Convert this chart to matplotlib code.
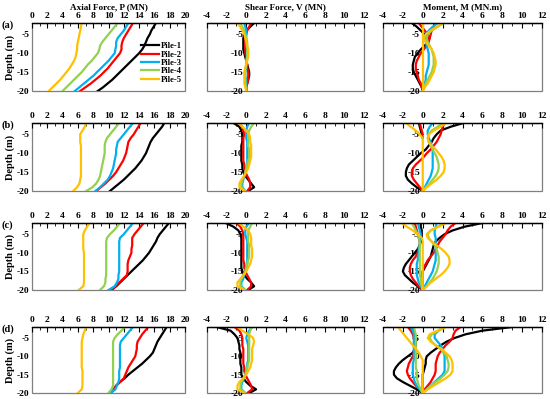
import numpy as np
import matplotlib
matplotlib.use('Agg')
import matplotlib.pyplot as plt
from matplotlib.patches import Rectangle
from matplotlib.ticker import MultipleLocator

depth = [-2, -3, -4, -5, -6, -7, -8, -9, -10, -11, -12, -13, -14, -15, -16, -17, -18, -19, -20]
piles = ['Pile-1', 'Pile-2', 'Pile-3', 'Pile-4', 'Pile-5']
colors = ['#000000', '#FF0000', '#00B0F0', '#92D050', '#FFC000']
row_labels = ['(a)', '(b)', '(c)', '(d)']
titles = ['Axial Force, P (MN)', 'Shear Force, V (MN)', 'Moment, M (MN.m)']
axial_ticks = [0, 2, 4, 6, 8, 10, 12, 14, 16, 18, 20]
vm_ticks = [-4, -2, 0, 2, 4, 6, 8, 10, 12]
depth_ticks = [-5, -10, -15, -20]
N = None

# ---------------- Axial force P (MN) ----------------
axial_a = [
    [16.2, 15.9, 15.6, 15.4, 15.1, 14.9, 14.7, 14.4, 14.0, 13.5, 13.0, 12.5, 12.0, 11.5, 11.0, 10.5, 9.9, 9.3, 8.6],
    [13.2, 12.9, 12.6, 12.3, 12.0, 11.8, 11.7, 11.7, 11.5, 11.1, 10.7, 10.3, 9.9, 9.4, 8.9, 8.3, 7.7, 7.0, 6.3],
    [12.6, 12.3, 12.0, 11.6, 11.2, 11.0, 11.0, 10.9, 10.8, 10.4, 10.0, 9.5, 9.0, 8.5, 8.0, 7.4, 6.8, 6.2, 5.6],
    [11.2, 10.8, 10.4, 10.0, 9.6, 9.2, 8.9, 8.8, 8.6, 8.2, 7.8, 7.3, 6.9, 6.5, 6.0, 5.5, 5.0, 4.5, 4.0],
    [6.5, 6.4, 6.3, 6.2, 6.1, 6.0, 5.9, 5.9, 5.8, 5.7, 5.5, 5.2, 4.9, 4.5, 4.1, 3.7, 3.2, 2.7, 2.2],
]
axial_b = [
    [17.3, 17.0, 16.6, 16.2, 15.8, 15.5, 15.3, 15.1, 14.9, 14.6, 14.3, 13.9, 13.5, 13.0, 12.5, 12.0, 11.4, 10.8, 10.2],
    [14.2, 13.9, 13.6, 13.3, 12.9, 12.6, 12.5, 12.4, 12.3, 12.1, 11.9, 11.6, 11.3, 11.0, 10.6, 10.1, 9.6, 9.0, 8.4],
    [13.2, 12.8, 12.4, 12.0, 11.6, 11.2, 11.1, 11.0, 11.0, 10.9, 10.8, 10.7, 10.6, 10.4, 10.2, 9.9, 9.4, 8.9, 8.3],
    [11.4, 11.0, 10.6, 10.2, 9.8, 9.6, 9.5, 9.5, 9.5, 9.4, 9.3, 9.2, 9.1, 9.0, 8.9, 8.7, 8.4, 7.9, 7.1],
    [7.1, 6.9, 6.6, 6.3, 6.3, 6.3, 6.4, 6.4, 6.4, 6.4, 6.4, 6.4, 6.4, 6.4, 6.4, 6.3, 6.2, 5.9, 5.4],
]
axial_c = [
    [17.9, 17.5, 17.1, 16.7, 16.4, 16.2, 15.9, 15.6, 15.3, 14.9, 14.5, 14.0, 13.5, 13.0, 12.5, 12.0, 11.5, 11.0, 10.4],
    [14.6, 14.2, 13.8, 13.4, 13.1, 13.1, 13.1, 13.0, 13.0, 12.8, 12.6, 12.5, 12.5, 12.5, 12.4, 11.9, 11.4, 10.9, 10.4],
    [13.2, 12.8, 12.4, 12.0, 11.5, 11.4, 11.4, 11.4, 11.4, 11.4, 11.4, 11.4, 11.4, 11.4, 11.3, 11.3, 11.1, 10.8, 10.0],
    [11.5, 11.1, 10.7, 10.2, 9.8, 9.7, 9.7, 9.7, 9.7, 9.7, 9.7, 9.7, 9.7, 9.7, 9.7, 9.6, 9.6, 9.4, 8.9],
    [7.5, 7.2, 6.9, 6.7, 6.7, 6.7, 6.7, 6.7, 6.8, 6.8, 6.8, 6.8, 6.8, 6.8, 6.8, 6.8, 6.8, 6.7, 6.1],
]
axial_d = [
    [17.6, 17.3, 17.0, 16.7, 16.4, 16.2, 16.0, 15.8, 15.4, 14.9, 14.4, 13.8, 13.2, 12.6, 12.1, 11.5, 11.0, 10.7, 10.3],
    [15.2, 14.8, 14.4, 14.1, 13.8, 13.7, 13.7, 13.6, 13.5, 13.2, 12.9, 12.6, 12.4, 12.2, 12.0, 11.5, 11.0, 10.7, 10.3],
    [13.2, 12.8, 12.4, 12.0, 11.6, 11.5, 11.5, 11.5, 11.5, 11.5, 11.5, 11.5, 11.4, 11.4, 11.4, 11.3, 11.1, 10.9, 10.3],
    [12.1, 11.7, 11.2, 10.8, 10.6, 10.6, 10.6, 10.6, 10.6, 10.6, 10.6, 10.6, 10.6, 10.6, 10.6, 10.6, 10.6, 10.4, 10.0],
    [7.1, 6.9, 6.7, 6.6, 6.5, 6.5, 6.5, 6.5, 6.5, 6.5, 6.5, 6.5, 6.6, 6.6, 6.6, 6.6, 6.6, 6.5, 6.0],
]

# ---------------- Shear force V (MN) ----------------
shear_a = [
    [0.8, 0.4, 0.0, -0.2, -0.3, -0.3, -0.3, -0.3, -0.2, -0.1, 0.0, 0.1, 0.2, 0.3, 0.3, 0.2, 0.1, 0.0, 0.0],
    [0.5, 0.3, 0.1, 0.0, -0.1, -0.1, -0.1, -0.1, -0.1, 0.0, 0.0, 0.1, 0.1, 0.2, 0.2, 0.2, 0.1, 0.0, 0.0],
    [-0.2, -0.1, 0.0, 0.0, 0.0, 0.0, 0.0, 0.1, 0.1, 0.1, 0.0, 0.0, 0.0, -0.1, -0.1, 0.0, 0.0, 0.0, 0.0],
    [-0.6, -0.4, -0.2, -0.1, 0.0, 0.1, 0.1, 0.1, 0.1, 0.1, 0.0, 0.0, -0.1, -0.1, -0.1, -0.1, -0.1, 0.0, 0.0],
    [-0.9, -0.6, -0.4, -0.2, -0.1, 0.0, 0.1, 0.2, 0.2, 0.2, 0.1, 0.0, -0.1, -0.2, -0.2, -0.2, -0.2, -0.1, 0.0],
]
shear_b = [
    [-1.3, -0.7, -0.5, -0.4, -0.4, -0.4, -0.5, -0.5, -0.5, -0.5, -0.5, -0.4, -0.4, -0.3, -0.1, 0.2, 0.5, 0.8, 0.2],
    [-0.8, -0.4, -0.3, -0.2, -0.3, -0.3, -0.3, -0.3, -0.3, -0.3, -0.3, -0.2, -0.2, -0.1, 0.1, 0.3, 0.4, 0.4, 0.1],
    [0.3, 0.1, 0.0, 0.0, 0.0, 0.1, 0.1, 0.1, 0.1, 0.1, 0.1, 0.1, 0.0, -0.1, -0.2, -0.3, -0.4, -0.4, -0.1],
    [0.8, 0.5, 0.3, 0.2, 0.2, 0.2, 0.2, 0.3, 0.3, 0.3, 0.2, 0.1, 0.0, -0.1, -0.2, -0.4, -0.5, -0.5, -0.1],
    [-0.8, -0.4, 0.0, 0.3, 0.4, 0.4, 0.5, 0.5, 0.5, 0.5, 0.4, 0.3, 0.2, 0.0, -0.2, -0.5, -0.7, -0.7, -0.2],
]
shear_c = [
    [-2.1, -1.3, -0.8, -0.6, -0.5, -0.5, -0.5, -0.5, -0.5, -0.5, -0.5, -0.5, -0.5, -0.4, -0.2, 0.1, 0.5, 0.8, 0.2],
    [-1.0, -0.6, -0.4, -0.3, -0.3, -0.3, -0.3, -0.3, -0.3, -0.3, -0.3, -0.2, -0.2, -0.1, 0.1, 0.3, 0.5, 0.5, 0.1],
    [0.3, 0.0, -0.1, -0.1, 0.0, 0.1, 0.1, 0.1, 0.1, 0.1, 0.1, 0.1, 0.0, -0.1, -0.2, -0.3, -0.5, -0.5, -0.1],
    [0.6, 0.4, 0.2, 0.2, 0.2, 0.2, 0.3, 0.3, 0.3, 0.3, 0.2, 0.1, 0.0, -0.1, -0.3, -0.5, -0.6, -0.6, -0.1],
    [-0.8, -0.3, 0.2, 0.4, 0.5, 0.5, 0.5, 0.6, 0.6, 0.6, 0.5, 0.4, 0.2, 0.0, -0.3, -0.6, -0.9, -0.9, -0.2],
]
shear_d = [
    [-3.0, -1.6, -1.2, -0.9, -0.8, -0.7, -0.7, -0.6, -0.6, -0.6, -0.6, -0.5, -0.5, -0.5, -0.3, 0.0, 0.4, 1.0, 0.3],
    [-1.2, -0.7, -0.5, -0.4, -0.4, -0.4, -0.3, -0.3, -0.3, -0.3, -0.3, -0.2, -0.2, -0.1, 0.1, 0.3, 0.5, 0.6, 0.1],
    [0.6, 0.3, 0.1, 0.0, 0.1, 0.2, 0.2, 0.2, 0.2, 0.2, 0.1, 0.1, 0.0, -0.1, -0.2, -0.4, -0.5, -0.5, -0.1],
    [0.6, 0.4, 0.3, 0.3, 0.3, 0.3, 0.3, 0.3, 0.3, 0.3, 0.2, 0.1, 0.0, -0.1, -0.3, -0.5, -0.6, -0.6, -0.1],
    [-0.9, -0.4, 0.2, 0.7, 0.8, 0.7, 0.6, 0.6, 0.6, 0.6, 0.5, 0.4, 0.2, 0.0, -0.3, -0.7, -0.9, -0.9, -0.2],
]

# ---------------- Moment M (MN.m): two profiles per pile ----------------
moment_a1 = [
    [-1.1, -0.6, -0.2, 0.2, 0.5, 0.5, 0.2, -0.2, -0.5, -0.8, -0.9, -1.0, -1.0, -0.9, -0.7, -0.5, -0.3, -0.1, 0.0],
    [-0.4, -0.1, 0.2, 0.5, 0.7, 0.6, 0.4, 0.1, -0.2, -0.4, -0.6, -0.7, -0.7, -0.6, -0.5, -0.4, -0.2, -0.1, 0.0],
    [1.5, 1.0, 0.6, 0.3, 0.2, 0.3, 0.4, 0.5, 0.6, 0.6, 0.6, 0.6, 0.5, 0.4, 0.3, 0.3, 0.2, 0.1, 0.0],
    [2.1, 1.5, 0.9, 0.5, 0.4, 0.5, 0.7, 0.9, 1.0, 1.1, 1.1, 1.1, 1.0, 0.9, 0.7, 0.5, 0.3, 0.1, 0.0],
    [2.0, 1.4, 0.8, 0.3, 0.1, 0.3, 0.6, 0.9, 1.1, 1.2, 1.3, 1.3, 1.2, 1.1, 0.9, 0.7, 0.5, 0.2, 0.0],
]
moment_a2 = [
    [N] * 19,
    [1.3, 1.1, 0.9, 0.8, 0.7, N, N, N, N, N, N, N, N, N, N, N, N, N, N],
    [N] * 19,
    [N] * 19,
    [0.0] * 19,
]
moment_b1 = [
    [4.1, 2.8, 1.8, 1.4, 1.1, 0.9, 0.6, 0.3, -0.2, -0.6, -1.0, -1.4, -1.6, -1.7, -1.7, -1.5, -1.1, -0.6, 0.0],
    [2.2, 2.0, 1.9, 1.8, 1.6, 1.4, 1.1, 0.8, 0.4, 0.1, -0.3, -0.7, -1.0, -1.1, -1.1, -0.9, -0.6, -0.3, 0.0],
    [1.0, 0.7, 0.5, 0.5, 0.6, 0.8, 0.9, 1.0, 1.0, 1.0, 1.0, 1.0, 1.0, 0.9, 0.8, 0.6, 0.4, 0.2, 0.0],
    [2.0, 1.5, 0.9, 0.6, 0.5, 0.6, 0.8, 1.0, 1.2, 1.4, 1.5, 1.6, 1.6, 1.5, 1.3, 1.0, 0.7, 0.3, 0.0],
    [2.3, 1.8, 1.1, 0.6, 0.5, 0.6, 0.9, 1.3, 1.6, 1.9, 2.1, 2.2, 2.2, 2.1, 1.8, 1.4, 0.9, 0.4, 0.0],
]
moment_b2 = [
    [-0.4, -0.3, -0.2, -0.1, 0.0, N, N, N, N, N, N, N, N, N, N, N, N, N, N],
    [-0.3, -0.2, -0.1, 0.0, N, N, N, N, N, N, N, N, N, N, N, N, N, N, N],
    [N] * 19,
    [N] * 19,
    [-1.7, -1.2, -0.7, -0.3, 0.0, 0.0, 0.0, 0.0, 0.0, 0.0, 0.0, 0.0, 0.0, 0.0, 0.0, 0.0, 0.0, 0.0, 0.0],
]
moment_c1 = [
    [6.0, 4.2, 3.0, 2.2, 1.7, 1.3, 1.1, 1.0, 0.9, 0.8, 0.6, 0.4, 0.2, 0.0, 0.0, 0.0, 0.0, 0.0, 0.0],
    [3.3, 2.8, 2.5, 2.3, 2.0, 1.7, 1.5, 1.3, 1.1, 0.8, 0.5, 0.3, 0.1, 0.0, 0.0, 0.0, 0.0, 0.0, 0.0],
    [1.4, 1.3, 1.2, 1.2, 1.3, 1.3, 1.3, 1.3, 1.3, 1.3, 1.3, 1.2, 1.1, 1.0, 0.8, 0.6, 0.4, 0.2, 0.0],
    [2.2, 1.5, 0.8, 0.5, 0.6, 0.9, 1.2, 1.4, 1.5, 1.6, 1.6, 1.6, 1.5, 1.4, 1.2, 1.0, 0.7, 0.4, 0.0],
    [2.3, 1.6, 0.8, 0.4, 0.5, 0.9, 1.4, 1.9, 2.3, 2.6, 2.7, 2.7, 2.5, 2.2, 1.8, 1.3, 0.8, 0.4, 0.0],
]
moment_c2 = [
    [-0.2, -0.2, -0.1, -0.1, -0.1, -0.2, -0.3, -0.5, -0.8, -1.1, -1.4, -1.7, -1.9, -2.0, -1.8, -1.4, -1.0, -0.5, 0.0],
    [-0.8, -0.7, -0.6, -0.5, -0.4, -0.3, -0.3, -0.4, -0.5, -0.7, -1.0, -1.2, -1.3, -1.3, -1.2, -1.0, -0.7, -0.4, 0.0],
    [-0.5, -0.4, -0.3, -0.2, -0.2, -0.3, -0.3, -0.4, -0.4, -0.5, -0.5, -0.6, -0.6, -0.6, -0.6, -0.5, -0.4, -0.2, 0.0],
    [-1.1, -0.9, -0.7, -0.5, -0.4, -0.3, -0.3, -0.3, -0.3, -0.3, -0.3, -0.3, -0.3, -0.3, -0.3, -0.2, -0.2, -0.1, 0.0],
    [-2.1, -1.6, -1.0, -0.5, -0.1, 0.0, 0.0, 0.0, 0.0, 0.0, 0.0, 0.0, 0.0, 0.0, 0.0, 0.0, 0.0, 0.0, 0.0],
]
moment_d1 = [
    [9.0, 6.0, 4.3, 3.2, 2.4, 1.8, 1.3, 0.8, 0.4, 0.3, 0.3, 0.2, 0.1, 0.0, 0.0, 0.0, 0.0, 0.0, 0.0],
    [3.8, 3.3, 3.1, 3.0, 2.7, 2.3, 2.0, 1.7, 1.5, 1.4, 1.3, 1.3, 1.3, 1.2, 1.0, 0.8, 0.5, 0.2, 0.0],
    [2.0, 1.6, 1.2, 1.2, 1.5, 1.8, 2.0, 2.1, 2.2, 2.2, 2.2, 2.2, 2.2, 2.0, 1.6, 1.2, 0.8, 0.4, 0.0],
    [2.3, 1.6, 0.9, 0.7, 0.9, 1.3, 1.8, 2.1, 2.4, 2.5, 2.6, 2.6, 2.5, 2.2, 1.8, 1.3, 0.8, 0.4, 0.0],
    [2.3, 1.5, 0.7, 0.5, 0.8, 1.3, 1.9, 2.3, 2.7, 2.9, 3.0, 3.0, 3.0, 2.8, 2.3, 1.7, 1.1, 0.5, 0.0],
]
moment_d2 = [
    [-1.2, -1.0, -0.9, -0.8, -0.7, -0.7, -0.8, -1.0, -1.5, -2.0, -2.4, -2.7, -2.9, -2.9, -2.6, -2.0, -1.3, -0.6, 0.0],
    [-1.5, -1.2, -1.0, -0.9, -0.8, -0.8, -0.8, -0.9, -1.0, -1.2, -1.4, -1.5, -1.6, -1.5, -1.3, -1.0, -0.7, -0.3, 0.0],
    [-1.2, -1.0, -0.9, -0.9, -0.9, -0.9, -0.9, -0.9, -0.9, -0.9, -1.0, -1.0, -1.0, -1.0, -0.9, -0.8, -0.6, -0.3, 0.0],
    [-0.9, -0.8, -0.7, -0.7, -0.7, -0.7, -0.7, -0.7, -0.7, -0.7, -0.7, -0.7, -0.6, -0.6, -0.6, -0.5, -0.4, -0.2, 0.0],
    [-2.5, -2.2, -1.9, -1.6, -1.3, -1.0, -0.7, -0.4, -0.2, 0.0, 0.0, 0.0, 0.0, 0.0, 0.0, 0.0, 0.0, 0.0, 0.0],
]

axial_rows = [axial_a, axial_b, axial_c, axial_d]
shear_rows = [shear_a, shear_b, shear_c, shear_d]
moment_rows = [(moment_a1, moment_a2), (moment_b1, moment_b2),
               (moment_c1, moment_c2), (moment_d1, moment_d2)]

plt.rcParams['font.family'] = ['Liberation Serif', 'DejaVu Serif']
plt.rcParams['font.weight'] = 'bold'
plt.rcParams['axes.unicode_minus'] = False

W, H = 550, 399
fig = plt.figure(figsize=(W / 100, H / 100), dpi=100)
col_x = [(32, 185), (207, 364), (383, 542)]
row_y = [(23, 91), (123, 191), (223, 290), (327, 393)]

LW = 1.6
FS = 6.8
TFS = 6.6

def make_ax(r, c):
    x0, x1 = col_x[c]
    y0, y1 = row_y[r]
    ax = fig.add_axes([x0 / W, 1 - y1 / H, (x1 - x0) / W, (y1 - y0) / H])
    ax.set_ylim(-20, -2)
    if c == 0:
        ax.set_xlim(0, 20)
        ax.set_xticks(axial_ticks)
    else:
        ax.set_xlim(-4, 12)
        ax.set_xticks(vm_ticks)
    ax.xaxis.set_minor_locator(MultipleLocator(1))
    ax.set_yticks(depth_ticks)
    ax.xaxis.tick_top()
    for s in ['bottom', 'right']:
        ax.spines[s].set_visible(False)
    ax.spines['top'].set_color('black')
    ax.spines['top'].set_linewidth(1.0)
    ax.spines['left'].set_position(('data', 0))
    ax.spines['left'].set_visible(False)
    ax.add_patch(Rectangle((0, 0), 1, 1, transform=ax.transAxes, fill=False,
                           edgecolor='#7F7F7F', linewidth=0.9, zorder=0.5, clip_on=False))
    ax.tick_params(axis='x', which='major', direction='in', length=3.5, width=0.8,
                   pad=2, labelsize=FS)
    ax.tick_params(axis='x', which='minor', direction='in', length=2, width=0.6)
    ax.tick_params(axis='y', length=0, pad=2, labelsize=FS)
    for lab in ax.get_xticklabels() + ax.get_yticklabels():
        lab.set_fontweight('bold')
    ax.set_facecolor('none')
    return ax

for r in range(4):
    # axial
    ax = make_ax(r, 0)
    for i in range(5):
        ax.plot(axial_rows[r][i], depth, color=colors[i], lw=LW, label=piles[i],
                solid_joinstyle='round')
    ax.set_ylabel('Depth (m)', fontsize=7.5, fontweight='bold', labelpad=1)
    ax.text(-0.2, 0.97, row_labels[r], transform=ax.transAxes, fontsize=7.5,
            fontweight='bold', ha='left', va='center')
    if r == 0:
        ax.set_title(titles[0], fontsize=TFS, fontweight='bold', pad=10)
        leg = ax.legend(loc='upper left', bbox_to_anchor=(0.71, 0.72), frameon=False,
                        fontsize=6.2, labelspacing=0.05, handlelength=2.1,
                        handletextpad=0.2, borderpad=0, borderaxespad=0)
        for t in leg.get_texts():
            t.set_fontweight('bold')
    # shear
    ax = make_ax(r, 1)
    for i in range(5):
        ax.plot(shear_rows[r][i], depth, color=colors[i], lw=LW, solid_joinstyle='round')
    if r == 0:
        ax.set_title(titles[1], fontsize=TFS, fontweight='bold', pad=10)
    # moment
    ax = make_ax(r, 2)
    m1, m2 = moment_rows[r]
    for i in range(5):
        ax.plot(np.array(m1[i], dtype=float), depth, color=colors[i], lw=LW,
                solid_joinstyle='round')
        ax.plot(np.array(m2[i], dtype=float), depth, color=colors[i], lw=LW,
                solid_joinstyle='round')
    if r == 0:
        ax.set_title(titles[2], fontsize=TFS, fontweight='bold', pad=10)

fig.savefig('out.png', dpi=100)
